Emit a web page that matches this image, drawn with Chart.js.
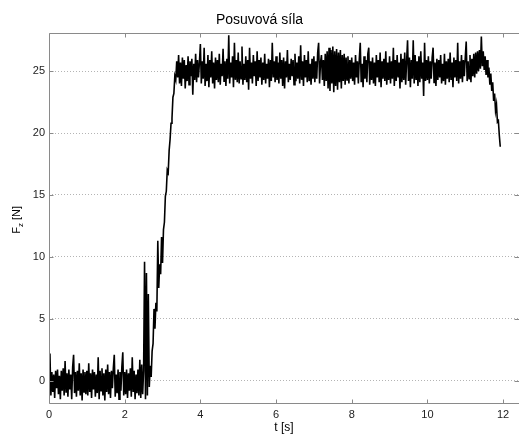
<!DOCTYPE html>
<html>
<head>
<meta charset="utf-8">
<script src="https://cdn.jsdelivr.net/npm/chart.js@4.4.0/dist/chart.umd.min.js"></script>
<style>
  html, body { margin: 0; padding: 0; background: #fff; }
  #wrap { width: 519px; height: 435px; }
</style>
</head>
<body>
<div id="wrap"><canvas id="chart" width="519" height="435"></canvas></div>
<script>
const chartTitle = "Posuvová síla";
const xLabel = "t [s]";
const yLabelParts = ["F", "z", " [N]"];
const xTicks = [0, 2, 4, 6, 8, 10, 12];
const yTicks = [0, 5, 10, 15, 20, 25];

const t0 = 0;
const dt = 0.025;
const fz = [
  // 0 s
  -0.3, 2.2, -1.2, 0.7, -0.9, 0.5, -1.4, 0.8, -0.6, 0.9, -1.1, 0.4, -1.5, 0.8, -0.8, 1.0, -1.2, 1.6, -0.9, 0.6,
  -1.3, 0.9, -0.7, 0.5, -1.5, 1.1, 2.1, -1.0, 0.7, -1.3, 0.8, -0.8, 1.4, -1.2, 0.6, -1.6, 0.9, -0.9, 0.7, -1.1,
  // 1 s
  0.8, -1.2, 1.4, -0.9, 0.6, -1.4, 0.9, -0.7, 0.7, -1.3, 0.5, -1.0, 1.9, -1.5, 0.8, -0.8, 1.0, -1.2, 0.6, -1.6,
  0.9, -0.9, 1.3, -1.1, 0.7, -1.4, 0.8, -0.6, 1.0, 2.1, -1.3, 0.5, -1.0, 0.9, -1.5, 0.7, -0.8, 1.1, 2.3, -1.2,
  // 2 s
  0.7, -1.1, 0.9, -1.4, 0.6, -0.8, 1.0, -1.3, 1.9, -0.9, 0.8, -1.5, 0.5, -1.0, 0.9, -1.2, 1.7, -1.4, 1.3, -1.1,
  0.8, 9.6, -1.5, 8.7, -1.2, 7.0, -0.5, 1.2, 0.3, 2.4, 3.0, 5.8, 4.2, 6.3, 5.6, 11.3, 7.5, 9.4, 8.6, 11.6,
  // 3 s
  9.5, 12.2, 12.8, 14.9, 15.3, 17.0, 16.8, 18.6, 19.5, 20.8, 21.2, 22.9, 23.2, 24.6, 24.3, 25.8, 24.5, 26.3, 24.0, 25.7,
  23.8, 26.1, 24.4, 25.9, 23.6, 25.5, 24.2, 26.2, 23.9, 25.8, 24.6, 26.0, 23.1, 25.6, 24.3, 26.4, 24.1, 25.9, 24.5, 25.7,
  // 4 s
  27.2, 24.0, 25.8, 24.4, 26.9, 23.8, 25.6, 24.2, 26.3, 23.7, 25.9, 24.5, 26.6, 24.0, 25.7, 23.6, 26.1, 24.3, 25.9, 24.1,
  26.4, 23.9, 25.6, 24.6, 26.8, 24.2, 25.8, 23.8, 26.0, 24.4, 27.9, 24.0, 25.7, 24.5, 26.2, 23.7, 27.3, 24.3, 25.9, 24.1,
  // 5 s
  26.5, 24.0, 25.8, 24.4, 27.0, 23.9, 25.6, 24.3, 26.2, 24.1, 25.9, 23.5, 26.9, 24.4, 25.7, 24.0, 26.3, 24.6, 25.8, 23.8,
  26.6, 24.2, 25.9, 24.5, 26.1, 23.9, 25.7, 24.3, 26.4, 24.0, 25.6, 24.4, 26.0, 23.7, 25.9, 24.2, 27.3, 24.5, 25.8, 24.1,
  // 6 s
  26.2, 24.3, 25.7, 24.0, 26.5, 24.4, 25.9, 23.8, 26.1, 23.6, 25.8, 24.5, 26.7, 24.1, 25.6, 24.3, 26.0, 24.6, 25.9, 23.9,
  26.4, 24.2, 25.7, 24.4, 26.2, 24.0, 27.1, 24.3, 25.8, 23.8, 26.3, 24.5, 25.9, 24.1, 26.6, 24.2, 25.6, 23.9, 26.0, 24.4,
  // 7 s
  26.2, 24.1, 25.8, 24.4, 26.5, 27.3, 24.0, 25.7, 26.3, 24.3, 25.9, 23.8, 26.4, 24.2, 26.6, 23.6, 26.9, 23.4, 26.7, 24.0,
  27.0, 23.3, 26.6, 23.8, 26.8, 23.5, 26.5, 24.1, 26.7, 23.6, 26.3, 24.2, 26.4, 23.9, 26.1, 24.3, 26.2, 24.0, 25.9, 24.4,
  // 8 s
  26.1, 24.2, 25.7, 23.9, 26.3, 24.5, 25.8, 24.0, 26.0, 27.3, 24.1, 25.6, 23.7, 26.2, 24.4, 25.9, 24.1, 26.4, 26.9, 23.9,
  25.8, 24.3, 26.1, 24.0, 25.7, 23.8, 26.3, 24.5, 25.9, 24.1, 26.5, 23.7, 25.8, 24.4, 26.0, 24.2, 26.6, 23.9, 25.7, 24.3,
  // 9 s
  26.2, 24.0, 25.8, 24.4, 26.9, 23.8, 25.9, 24.2, 26.3, 24.5, 25.7, 23.6, 26.4, 24.1, 26.0, 24.3, 26.5, 23.9, 25.8, 27.5,
  24.2, 26.1, 23.7, 25.9, 24.4, 27.5, 24.0, 26.3, 24.3, 25.8, 23.8, 26.2, 24.1, 26.6, 24.4, 25.7, 23.0, 27.3, 24.2, 25.9,
  // 10 s
  24.3, 26.2, 24.0, 25.8, 24.4, 26.1, 26.9, 24.1, 25.7, 23.8, 26.0, 24.3, 25.9, 24.5, 26.3, 24.0, 25.6, 24.2, 26.4, 23.9,
  25.8, 24.4, 26.0, 24.1, 26.5, 24.3, 25.7, 23.7, 26.1, 24.5, 25.9, 24.2, 27.3, 24.0, 25.8, 24.4, 26.3, 24.1, 25.9, 24.6,
  // 11 s
  26.1, 27.4, 24.2, 25.8, 24.4, 26.3, 24.1, 26.0, 24.6, 26.4, 24.5, 26.5, 24.8, 26.6, 25.0, 26.7, 25.2, 27.8, 25.4, 26.6,
  25.1, 26.2, 24.7, 25.9, 24.5, 25.3, 23.9, 24.8, 23.4, 24.1, 22.6, 23.2, 21.8, 22.3, 20.9, 21.0, 19.8, 18.9
];

const xMin = 0, xMax = 12.42;
const yMin = -1.8, yMax = 28.1;

Chart.defaults.font.family = "'Liberation Sans', Arial, sans-serif";

const points = fz.map((v, i) => ({ x: t0 + i * dt, y: v }));

// MATLAB style box with inward ticks, plus the y label with subscript
// (the right edge of the box falls just outside the picture, only its ticks show)
const boxPlugin = {
  id: "box",
  afterDraw(chart) {
    const { ctx, chartArea: a, scales } = chart;
    const left = Math.round(a.left) + 0.5;
    const top = Math.round(a.top) + 0.5;
    const bottom = Math.round(a.bottom) + 0.5;
    const right = chart.width + 0.5;
    ctx.save();
    ctx.strokeStyle = "#8a8a8a";
    ctx.lineWidth = 1;
    ctx.beginPath();
    ctx.moveTo(right, top); ctx.lineTo(left, top);
    ctx.lineTo(left, bottom); ctx.lineTo(right, bottom);
    const tl = 4;
    xTicks.forEach(v => {
      const px = Math.round(scales.x.getPixelForValue(v)) + 0.5;
      ctx.moveTo(px, bottom); ctx.lineTo(px, bottom - tl);
      ctx.moveTo(px, top); ctx.lineTo(px, top + tl);
    });
    yTicks.forEach(v => {
      const py = Math.round(scales.y.getPixelForValue(v)) + 0.5;
      ctx.moveTo(left, py); ctx.lineTo(left + tl, py);
      ctx.moveTo(right, py); ctx.lineTo(right - tl - 1, py);
    });
    ctx.stroke();

    // y axis label  F_z [N]
    const cy = (a.top + a.bottom) / 2 + 2;
    ctx.translate(16, cy);
    ctx.rotate(-Math.PI / 2);
    ctx.fillStyle = "#000";
    ctx.textBaseline = "alphabetic";
    const big = "11px 'Liberation Sans', Arial, sans-serif";
    const small = "8px 'Liberation Sans', Arial, sans-serif";
    ctx.font = big;
    const w0 = ctx.measureText(yLabelParts[0]).width;
    const w2 = ctx.measureText(yLabelParts[2]).width;
    ctx.font = small;
    const w1 = ctx.measureText(yLabelParts[1]).width;
    let x = -(w0 + w1 + w2) / 2;
    ctx.font = big;
    ctx.fillText(yLabelParts[0], x, 4); x += w0;
    ctx.font = small;
    ctx.fillText(yLabelParts[1], x, 7); x += w1;
    ctx.font = big;
    ctx.fillText(yLabelParts[2], x, 4);
    ctx.restore();
  }
};

new Chart(document.getElementById("chart"), {
  type: "line",
  data: {
    datasets: [{
      data: points,
      borderColor: "#000",
      borderWidth: 1.6,
      pointRadius: 0,
      tension: 0,
      fill: false
    }]
  },
  options: {
    responsive: false,
    animation: false,
    layout: { padding: { left: 0, right: 0, top: 0, bottom: 0 } },
    plugins: {
      legend: { display: false },
      tooltip: { enabled: false },
      title: {
        display: true,
        text: chartTitle,
        color: "#000",
        font: { size: 14, weight: "normal" },
        padding: { top: 12, bottom: 4 }
      }
    },
    scales: {
      x: {
        type: "linear",
        min: xMin,
        max: xMax,
        afterBuildTicks: s => { s.ticks = xTicks.map(v => ({ value: v })); },
        afterFit: s => { s.height = 32; },
        grid: { display: false, drawTicks: false },
        border: { display: false },
        ticks: { color: "#222", font: { size: 11 }, padding: 5, maxRotation: 0 },
        title: {
          display: true,
          text: xLabel,
          color: "#000",
          font: { size: 12 },
          padding: { top: 0, bottom: 0 }
        }
      },
      y: {
        type: "linear",
        min: yMin,
        max: yMax,
        afterBuildTicks: s => { s.ticks = yTicks.map(v => ({ value: v })); },
        afterFit: s => { s.width = 49; },
        grid: { color: "#b4b4b4", lineWidth: 1, drawTicks: false },
        border: { display: false, dash: [1, 2] },
        ticks: { color: "#222", font: { size: 11 }, padding: 4 }
      }
    }
  },
  plugins: [boxPlugin]
});
</script>
</body>
</html>
